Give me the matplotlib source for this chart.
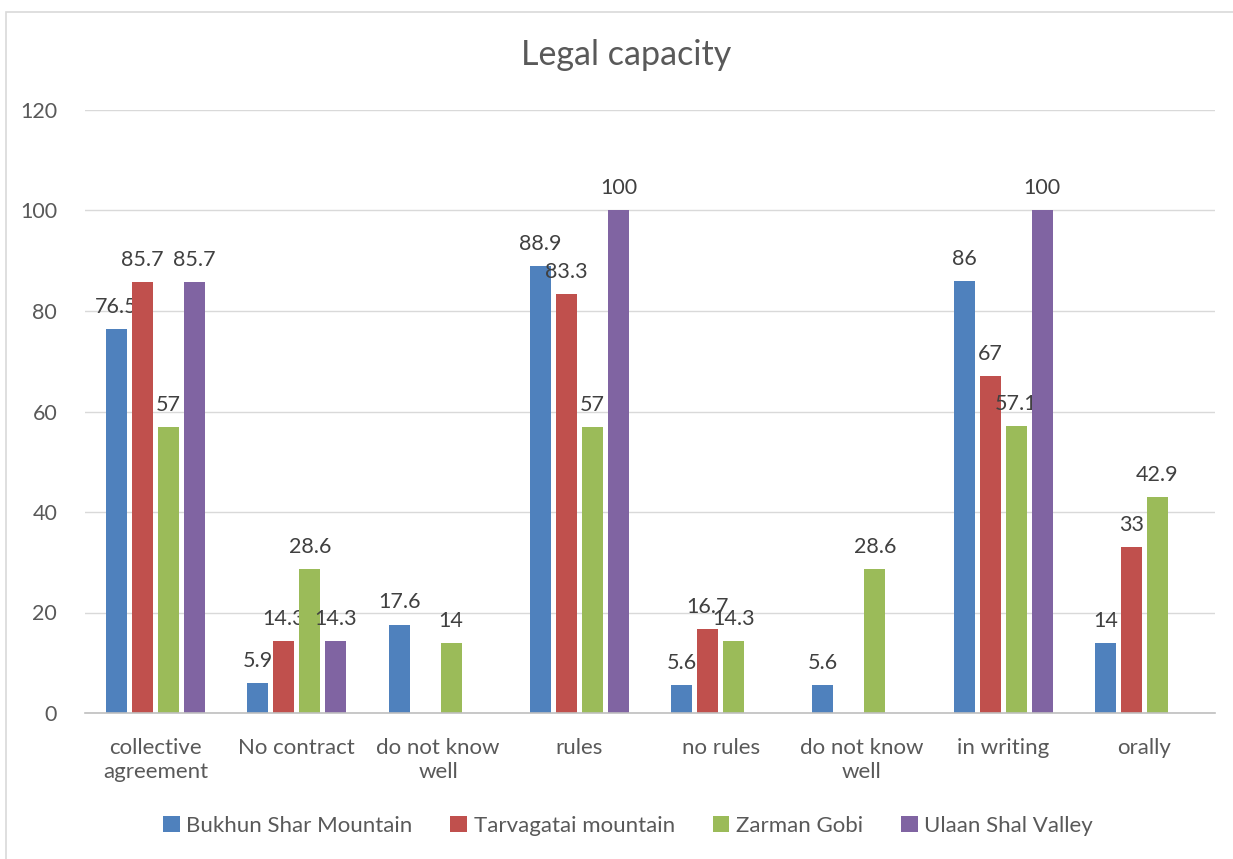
import numpy as np
import matplotlib
matplotlib.use("Agg")
import matplotlib.pyplot as plt
from matplotlib.patches import Rectangle, Patch

categories = ["collective\nagreement", "No contract", "do not know\nwell", "rules",
              "no rules", "do not know\nwell", "in writing", "orally"]
series_names = ["Bukhun Shar Mountain", "Tarvagatai mountain", "Zarman Gobi", "Ulaan Shal Valley"]
bukhun = [76.5, 5.9, 17.6, 88.9, 5.6, 5.6, 86, 14]
tarvagatai = [85.7, 14.3, np.nan, 83.3, 16.7, np.nan, 67, 33]
zarman = [57, 28.6, 14, 57, 14.3, 28.6, 57.1, 42.9]
ulaan = [85.7, 14.3, np.nan, 100, np.nan, np.nan, 100, np.nan]
colors = ["#4F81BD", "#C0504D", "#9BBB59", "#8064A2"]

plt.rcParams['font.family'] = ['Lato', 'DejaVu Sans']
txt = "#595959"

fig = plt.figure(figsize=(12.33, 8.59), dpi=100)
fig.patches.append(Rectangle((6/1233, -0.1), 1.2, 1 - 12/859 + 0.1, transform=fig.transFigure,
                             fill=False, edgecolor="#d9d9d9", linewidth=1.2))
ax = fig.add_axes([85/1233, 1 - 713/859, (1215 - 85)/1233, (713 - 110)/859])

x = np.arange(len(categories))
bw = 0.149
step = 0.184
data = [bukhun, tarvagatai, zarman, ulaan]
for i, (vals, c) in enumerate(zip(data, colors)):
    off = (i - 1.5) * step
    xs = x + off
    ax.bar(xs, np.nan_to_num(vals), width=bw, color=c, zorder=3)
    for xi, v in zip(xs, vals):
        if not np.isnan(v):
            lab = ("%g" % v)
            ax.text(xi, v + 2.4, lab, ha="center", va="bottom", fontsize=15.5, color="#404040")

ax.set_xlim(-0.5, len(categories) - 0.5)
ax.set_ylim(0, 120)
ax.set_yticks(range(0, 121, 20))
ax.set_xticks(x)
ax.set_xticklabels(categories, fontsize=16, color=txt, linespacing=1.25)
ax.tick_params(axis="y", labelsize=15.5, labelcolor=txt, length=0, pad=20)
ax.tick_params(axis="x", length=0, pad=18)
ax.grid(axis="y", color="#d9d9d9", linewidth=1, zorder=0)
for s in ["top", "right", "left"]:
    ax.spines[s].set_visible(False)
ax.spines["bottom"].set_color("#bfbfbf")
ax.spines["bottom"].set_linewidth(1.2)
ax.spines["bottom"].set_zorder(4)

fig.text(626/1233, 1 - 55/859, "Legal capacity", ha="center", va="center", fontsize=24.5, color=txt)

handles = [Patch(facecolor=c) for c in colors]
fig.legend(handles, series_names, loc="center", bbox_to_anchor=(628/1233, 1 - 826/859), ncol=4,
           frameon=False, fontsize=16, labelcolor=txt, handlelength=0.75, handleheight=0.75,
           handletextpad=0.3, columnspacing=1.7)

fig.savefig("out.png", dpi=100, facecolor="white")
